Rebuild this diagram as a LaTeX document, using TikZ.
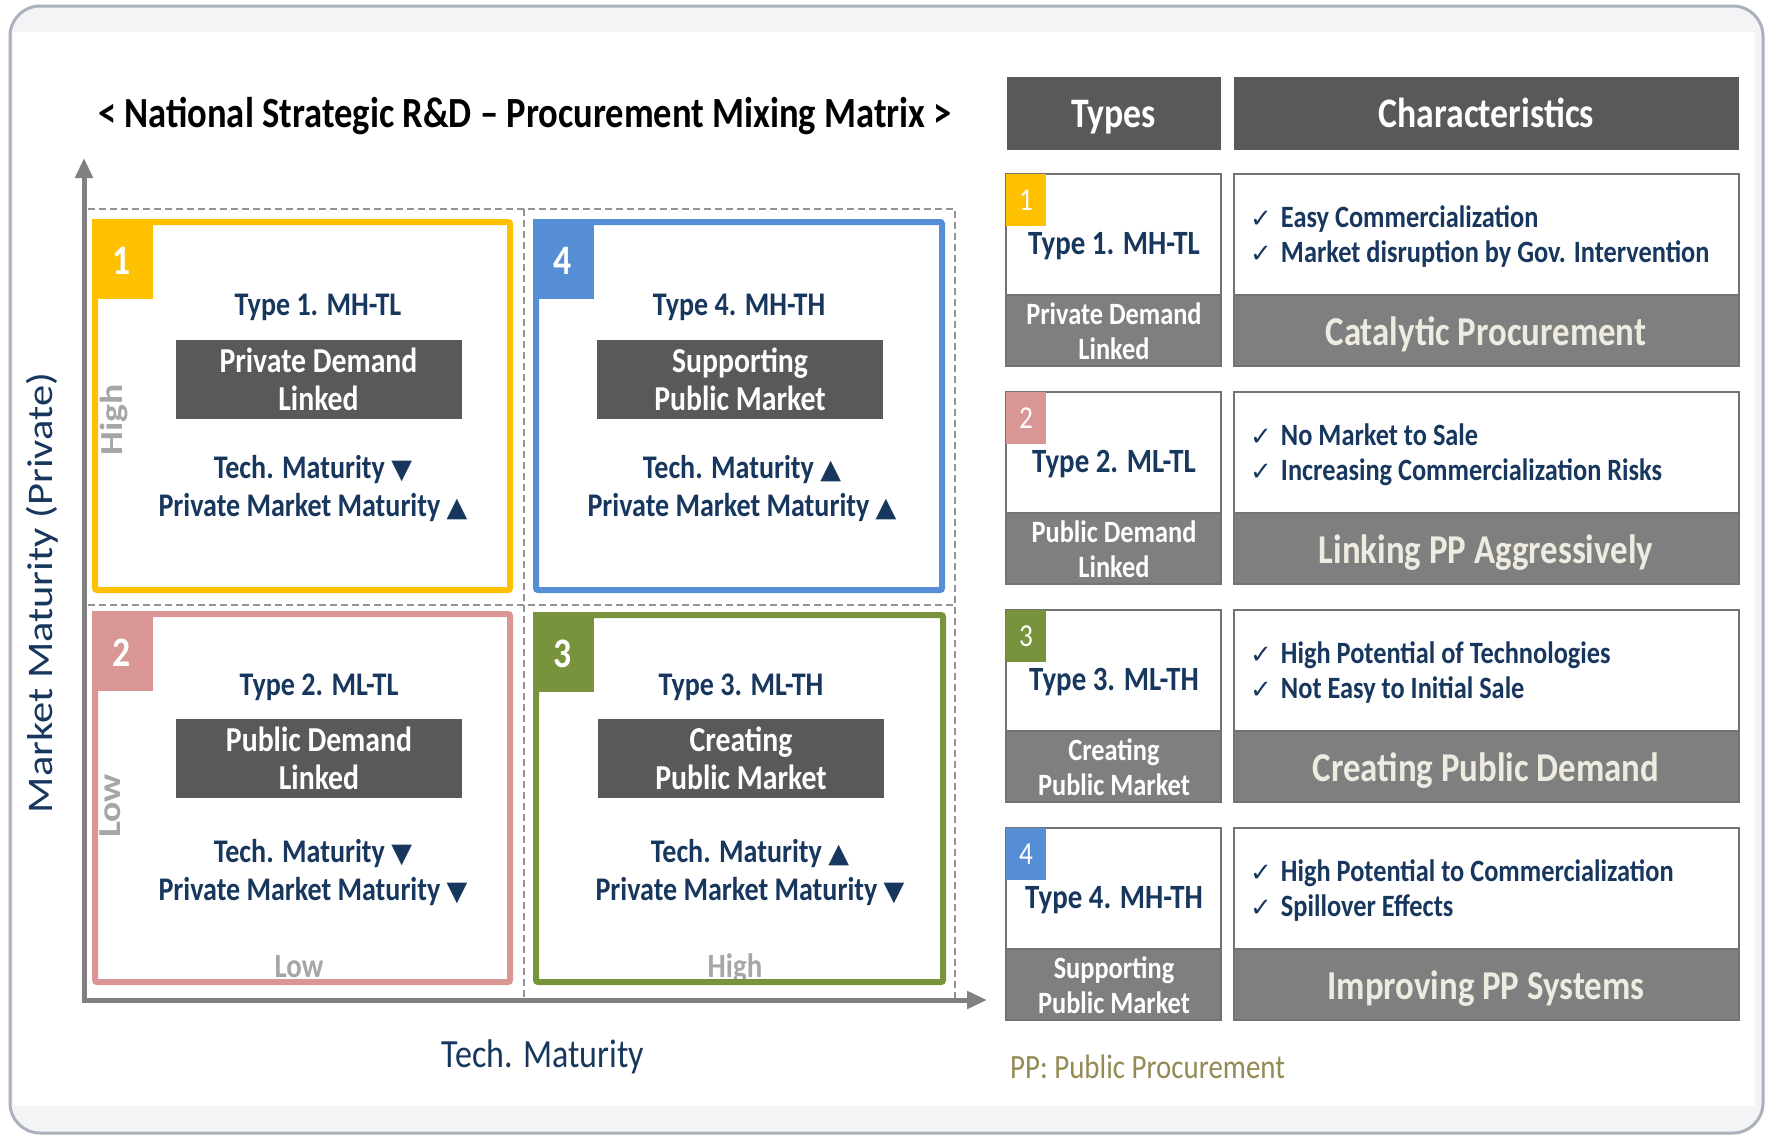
\documentclass[tikz,border=0pt]{standalone}
\usepackage{fontspec}
\setmainfont{Carlito}[FakeStretch=0.85]
\newfontfamily\upfont{Carlito}[FakeStretch=1.18]
\newfontfamily\symfont{DejaVu Sans}
\usetikzlibrary{arrows.meta}

\definecolor{navytext}{HTML}{17375E}
\definecolor{boxdark}{HTML}{595959}
\definecolor{bandgray}{HTML}{7F7F7F}
\definecolor{creamtext}{HTML}{EEECE1}
\definecolor{olivetext}{HTML}{948A54}
\definecolor{qyellow}{HTML}{FFC000}
\definecolor{qblue}{HTML}{558ED5}
\definecolor{qpink}{HTML}{D99694}
\definecolor{qgreen}{HTML}{77933C}
\definecolor{axisgray}{HTML}{808080}
\definecolor{labelgray}{HTML}{A6A6A6}
\definecolor{framegray}{HTML}{A9B1BC}
\definecolor{framefill}{HTML}{F4F4F6}

\def\triup{{\symfont\fontsize{27}{27}\selectfont ▲}}
\def\tridown{{\symfont\fontsize{27}{27}\selectfont ▼}}
\def\chk{{\symfont\fontsize{26}{26}\selectfont ✓}\hspace{9pt}}
% one row of the table: top, number, colour, type, band, two points, summary
\def\typerow#1#2#3#4#5#6#7#8{%
	\draw[rowline, fill=white] (1006,#1) rectangle (1221,#1+121);
	\draw[rowline, fill=bandgray] (1006,#1+121) rectangle (1221,#1+192);
	\fill[#3] (1006,#1) rectangle (1046,#1+52);
	\node[tabdigit] (tab#2) at (1026,#1+36) {#2};
	\node[rowtype] (type#2) at (1114,#1+80) {#4};
	\node[rowband] (band#2) at (1114,#1+157) {#5};
	\draw[rowline, fill=white] (1234,#1) rectangle (1739,#1+121);
	\draw[rowline, fill=bandgray] (1234,#1+121) rectangle (1739,#1+192);
	\node[rowpoint] (pointa#2) at (1250,#1+53) {\chk #6};
	\node[rowpoint] (pointb#2) at (1250,#1+88) {\chk #7};
	\node[rowbig] (big#2) at (1486,#1+171) {#8};
}

\begin{document}
\begin{tikzpicture}[x=1pt, y=-1pt,
	quadline/.style={line width=6pt, rounded corners=2pt},
	quadnum/.style={anchor=base, text=white, inner sep=0, font=\bfseries\fontsize{42}{42}\selectfont},
	quadtext/.style={anchor=base, text=navytext, inner sep=0, font=\bfseries\fontsize{33}{38}\selectfont},
	darkbox/.style={fill=boxdark, text=white, align=center, inner sep=0, minimum width=286pt, minimum height=79pt, font=\bfseries\fontsize{35}{38}\selectfont},
	sidelabel/.style={anchor=base, text=labelgray, inner sep=0},
	gridline/.style={draw=gray!85, line width=1.5pt, dash pattern=on 7pt off 4pt},
	axisline/.style={draw=axisgray, line width=5pt, {Triangle[length=20pt,width=17pt]}-{Triangle[length=20pt,width=17pt]}},
	headbox/.style={fill=boxdark, text=white, minimum height=73pt, inner sep=0, text height=28pt, text depth=1pt, font=\bfseries\fontsize{42}{42}\selectfont},
	rowline/.style={draw=gray!90!black, line width=1.5pt},
	tabdigit/.style={anchor=base, text=white, inner sep=0, font=\fontsize{32}{32}\selectfont},
	rowtype/.style={anchor=base, text=navytext, inner sep=0, font=\bfseries\fontsize{34}{34}\selectfont},
	rowband/.style={text=white, align=center, inner sep=0, font=\bfseries\fontsize{31}{35}\selectfont},
	rowpoint/.style={anchor=base west, text=navytext, inner sep=0, font=\bfseries\fontsize{31}{31}\selectfont},
	rowbig/.style={anchor=base, text=creamtext, inner sep=0, font=\bfseries\fontsize{41}{41}\selectfont}]
	%%%%% START %%%%%
	\useasboundingbox (0,0) rectangle (1770,1136);
	
	\fill[framefill, rounded corners=30pt] (10,6) rectangle (1763,1133);
	\fill[white] (13,32) rectangle (1755,1106);
	\draw[framegray, line width=3pt, rounded corners=30pt] (10,6) rectangle (1763,1133);
	
	\node[anchor=base, inner sep=0, font=\bfseries\fontsize{43}{43}\selectfont] (title) at (525,127) {< National Strategic R\&D – Procurement Mixing Matrix >};
	
	\draw[gridline] (88,209) -- (955,209) -- (955,1000);
	\draw[gridline] (524,209) -- (524,1000);
	\draw[gridline] (88,605) -- (955,605);
	
	\coordinate (ytip) at (84,158);
	\coordinate (origin) at (84,1000);
	\coordinate (xtip) at (987,1000);
	\draw[axisline] (ytip) -- (origin) -- (xtip);
	
	\node[rotate=90, anchor=base, text=navytext, inner sep=0, font=\upfont\fontsize{36}{36}\selectfont] (ylabel) at (52,593) {Market Maturity (Private)};
	\node[anchor=base, text=navytext, inner sep=0, font=\fontsize{40}{40}\selectfont] (xlabel) at (543,1067) {Tech. Maturity};
	
	\node[sidelabel, rotate=90, font=\upfont\bfseries\fontsize{32}{32}\selectfont] (highY) at (122,420) {High};
	\node[sidelabel, rotate=90, font=\upfont\bfseries\fontsize{32}{32}\selectfont] (lowY) at (120,806) {Low};
	\node[sidelabel, font=\bfseries\fontsize{34}{34}\selectfont] (lowX) at (299,977) {Low};
	\node[sidelabel, font=\bfseries\fontsize{34}{34}\selectfont] (highX) at (735,977) {High};
	
	% type 1
	\draw[quadline, qyellow] (95,222) rectangle (510,590);
	\fill[qyellow] (92,219) rectangle (153,299);
	\node[quadnum] (qnum1) at (122,274) {1};
	\node[quadtext] (qtype1) at (318,315) {Type 1. MH-TL};
	\node[darkbox] (qbox1) at (318.5,379) {Private Demand\\Linked};
	\node[quadtext] (qtech1) at (313,478) {Tech. Maturity \tridown};
	\node[quadtext] (qmarket1) at (313,516) {Private Market Maturity \triup};
	
	% type 4
	\draw[quadline, qblue] (536,222) rectangle (942,590);
	\fill[qblue] (533,219) rectangle (594,299);
	\node[quadnum] (qnum4) at (563,274) {4};
	\node[quadtext] (qtype4) at (739,315) {Type 4. MH-TH};
	\node[darkbox] (qbox4) at (740,379) {Supporting\\Public Market};
	\node[quadtext] (qtech4) at (742,478) {Tech. Maturity \triup};
	\node[quadtext] (qmarket4) at (742,516) {Private Market Maturity \triup};
	
	% type 2
	\draw[quadline, qpink] (95,614) rectangle (510,982);
	\fill[qpink] (92,611) rectangle (153,691);
	\node[quadnum] (qnum2) at (122,666) {2};
	\node[quadtext] (qtype2) at (319,695) {Type 2. ML-TL};
	\node[darkbox] (qbox2) at (319,758) {Public Demand\\Linked};
	\node[quadtext] (qtech2) at (313,862) {Tech. Maturity \tridown};
	\node[quadtext] (qmarket2) at (313,900) {Private Market Maturity \tridown};
	
	% type 3
	\draw[quadline, qgreen] (536,615) rectangle (943,982);
	\fill[qgreen] (533,612) rectangle (594,692);
	\node[quadnum] (qnum3) at (563,667) {3};
	\node[quadtext] (qtype3) at (741,695) {Type 3. ML-TH};
	\node[darkbox] (qbox3) at (741,758) {Creating\\Public Market};
	\node[quadtext] (qtech3) at (750,862) {Tech. Maturity \triup};
	\node[quadtext] (qmarket3) at (750,900) {Private Market Maturity \tridown};
	
	% table
	\node[headbox, minimum width=214pt] (typeshead) at (1113.5,113.5) {Types};
	\node[headbox, minimum width=505pt] (charhead) at (1486.5,113.5) {Characteristics};
	
	\typerow{174}{1}{qyellow}{Type 1. MH-TL}{Private Demand\\Linked}{Easy Commercialization}{Market disruption by Gov. Intervention}{Catalytic Procurement}
	\typerow{392}{2}{qpink}{Type 2. ML-TL}{Public Demand\\Linked}{No Market to Sale}{Increasing Commercialization Risks}{Linking PP Aggressively}
	\typerow{610}{3}{qgreen}{Type 3. ML-TH}{Creating\\Public Market}{High Potential of Technologies}{Not Easy to Initial Sale}{Creating Public Demand}
	\typerow{828}{4}{qblue}{Type 4. MH-TH}{Supporting\\Public Market}{High Potential to Commercialization}{Spillover Effects}{Improving PP Systems}
	
	\node[anchor=base west, text=olivetext, inner sep=0, font=\fontsize{34}{34}\selectfont] (ppnote) at (1010,1078) {PP: Public Procurement};
	%%%%% END %%%%%
\end{tikzpicture}
\end{document}
